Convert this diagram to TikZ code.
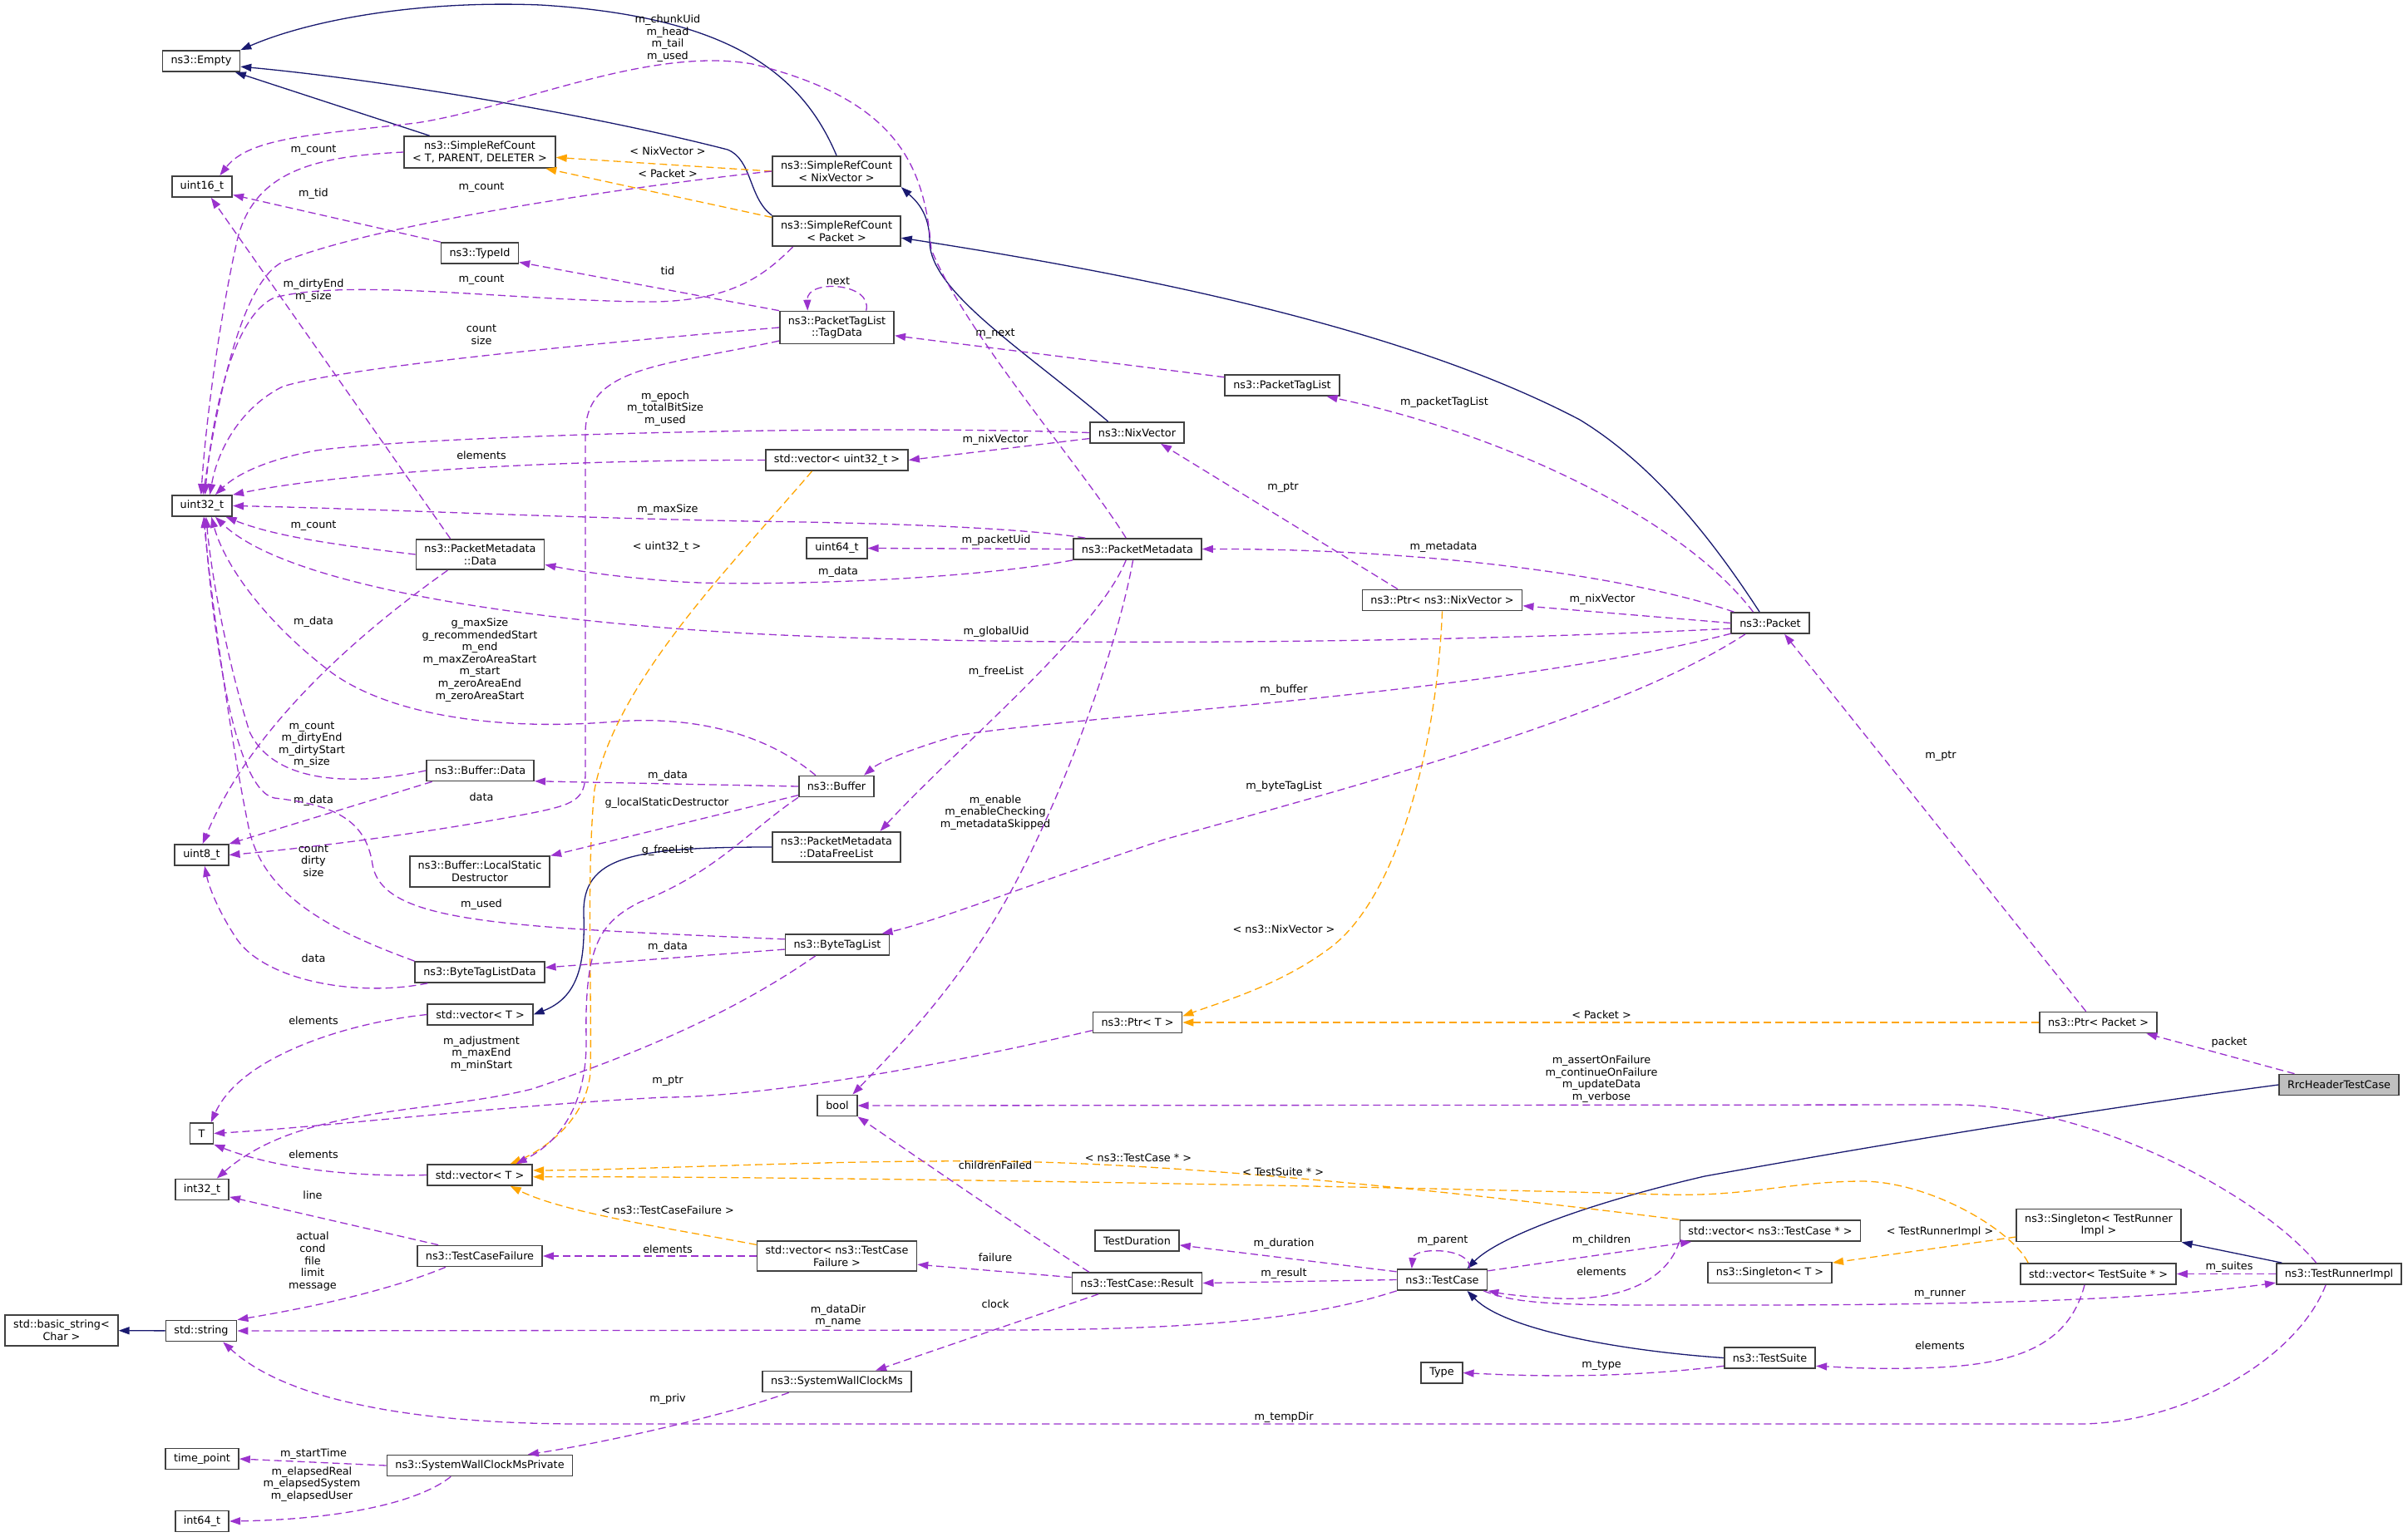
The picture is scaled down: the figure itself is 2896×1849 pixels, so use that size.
\documentclass[tikz,border=0pt]{standalone}
\usepackage{fontspec}
\setmainfont{DejaVu Sans}
\usetikzlibrary{arrows.meta}
\definecolor{mbrC}{HTML}{9A32CD}
\definecolor{tplC}{HTML}{FFA500}
\definecolor{inhC}{HTML}{191970}
\definecolor{rrcFill}{HTML}{BFBFBF}
\begin{document}
\begin{tikzpicture}[x=1pt,y=-1pt]
  \tikzstyle{every node}=[font=\fontsize{12.8}{14.6}\selectfont];
  \tikzstyle{cls}=[draw=black!75,line width=1.7pt,fill=white,inner xsep=10pt,inner ysep=6pt,minimum height=25pt,align=center];
  \tikzstyle{lbl}=[inner sep=1pt,align=center];
  \tikzstyle{mbr}=[draw=mbrC,line width=1.3pt,dash pattern=on 9pt off 5pt,-{Triangle[length=13pt,width=9pt]}];
  \tikzstyle{tpl}=[draw=tplC,line width=1.3pt,dash pattern=on 9pt off 5pt,-{Triangle[length=13pt,width=9pt]}];
  \tikzstyle{inh}=[draw=inhC,line width=1.3pt,-{Triangle[length=13pt,width=9pt]}];

  \fill[white] (0,0) rectangle (2896,1849);
  \useasboundingbox (0,0) rectangle (2896,1849);

  % classes
  \node[cls] (empty) at (242,73.5) {ns3::Empty};
  \node[cls] (u16) at (243,224.5) {uint16\_t};
  \node[cls] (srcT) at (577,183) {ns3::SimpleRefCount\\< T, PARENT, DELETER >};
  \node[cls] (srcNix) at (1006,206) {ns3::SimpleRefCount\\< NixVector >};
  \node[cls] (srcPkt) at (1006,278) {ns3::SimpleRefCount\\< Packet >};
  \node[cls] (typeId) at (577,304.5) {ns3::TypeId};
  \node[cls] (tagData) at (1006.5,394) {ns3::PacketTagList\\::TagData};
  \node[cls] (vecU32) at (1006.5,553.5) {std::vector< uint32\_t >};
  \node[cls] (u32) at (243,608.5) {uint32\_t};
  \node[cls] (ptl) at (1542,463.5) {ns3::PacketTagList};
  \node[cls] (nixVec) at (1367.5,520.5) {ns3::NixVector};
  \node[cls] (pmData) at (577.5,667) {ns3::PacketMetadata\\::Data};
  \node[cls] (u64) at (1006.5,659.5) {uint64\_t};
  \node[cls] (pm) at (1368,660.5) {ns3::PacketMetadata};
  \node[cls] (ptrNix) at (1734.5,722) {ns3::Ptr< ns3::NixVector >};
  \node[cls] (packet) at (2129,749.5) {ns3::Packet};
  \node[cls] (bufData) at (577.5,927) {ns3::Buffer::Data};
  \node[cls] (buffer) at (1006,946) {ns3::Buffer};
  \node[cls] (u8) at (242.5,1028.5) {uint8\_t};
  \node[cls] (lsd) at (577,1048.5) {ns3::Buffer::LocalStatic\\Destructor};
  \node[cls] (dfl) at (1006,1019) {ns3::PacketMetadata\\::DataFreeList};
  \node[cls] (btl) at (1007,1136.5) {ns3::ByteTagList};
  \node[cls] (btld) at (577,1169.5) {ns3::ByteTagListData};
  \node[cls] (vecTa) at (577.5,1220.5) {std::vector< T >};
  \node[cls] (boolT) at (1007,1330) {bool};
  \node[cls] (tpar) at (242.5,1363.5) {T};
  \node[cls] (vecTb) at (577,1413.5) {std::vector< T >};
  \node[cls] (i32) at (243,1431) {int32\_t};
  \node[cls] (tcf) at (577,1511) {ns3::TestCaseFailure};
  \node[cls] (vecTcf) at (1006.5,1511) {std::vector< ns3::TestCase\\Failure >};
  \node[cls] (basicStr) at (74,1600.5) {std::basic\_string<\\Char >};
  \node[cls] (str) at (242,1601) {std::string};
  \node[cls] (swcm) at (1006.5,1662) {ns3::SystemWallClockMs};
  \node[cls] (timePt) at (243,1755) {time\_point};
  \node[cls] (swcmp) at (577,1763) {ns3::SystemWallClockMsPrivate};
  \node[cls] (i64) at (243,1830) {int64\_t};
  \node[cls] (ptrT) at (1368,1230) {ns3::Ptr< T >};
  \node[cls] (ptrPkt) at (2523.5,1230) {ns3::Ptr< Packet >};
  \node[cls,fill=rrcFill] (rrc) at (2813,1305) {RrcHeaderTestCase};
  \node[cls] (testDur) at (1367.5,1492.5) {TestDuration};
  \node[cls] (tcResult) at (1367.5,1543.5) {ns3::TestCase::Result};
  \node[cls] (testCase) at (1734.5,1539.5) {ns3::TestCase};
  \node[cls] (vecTc) at (2129,1480.5) {std::vector< ns3::TestCase * >};
  \node[cls] (singTri) at (2524,1474) {ns3::Singleton< TestRunner\\Impl >};
  \node[cls] (singT) at (2128.5,1531) {ns3::Singleton< T >};
  \node[cls] (vecTs) at (2523.5,1532.5) {std::vector< TestSuite * >};
  \node[cls] (tri) at (2813,1532.5) {ns3::TestRunnerImpl};
  \node[cls] (testSuite) at (2128.5,1633.5) {ns3::TestSuite};
  \node[cls] (typeT) at (1734,1651.5) {Type};

  % inheritance
  \path[inh] (srcT) -- (empty);
  \path[inh] (srcNix.north) .. controls (965,90) and (880,20) .. (650,6) .. controls (500,0) and (370,25) .. (empty.north east);
  \path[inh] (srcPkt.north west) .. controls (900,238) and (905,192) .. (875,180) .. controls (700,135) and (450,95) .. (empty.-8);
  \path[inh] (nixVec.159) .. controls (1230,420) and (1118,350) .. (1118,290) .. controls (1118,255) and (1100,240) .. (srcNix.south east);
  \path[inh] (packet.134) .. controls (2060,650) and (1990,560) .. (1900,505) .. controls (1700,400) and (1400,335) .. (srcPkt.-6);
  \path[inh] (dfl.west) .. controls (760,1019) and (700,1030) .. (702,1100) .. controls (704,1160) and (695,1200) .. (vecTa.east);
  \path[inh] (str) -- (basicStr);
  \path[inh] (rrc.west) .. controls (2550,1330) and (2300,1370) .. (2050,1415) .. controls (1900,1450) and (1800,1490) .. (testCase.24);
  \path[inh] (testSuite.west) .. controls (1950,1625) and (1810,1600) .. (testCase.-24);
  \path[inh] (tri.169) -- (singTri.south east);

  % template instances
  \path[tpl] (srcNix.west) -- (srcT.-4) node[lbl] at (803,182) {< NixVector >};
  \path[tpl] (srcPkt.168) -- (srcT.-14) node[lbl] at (803,209) {< Packet >};
  \path[tpl] (vecU32.-156) .. controls (880,680) and (740,820) .. (715,950) .. controls (705,1050) and (712,1200) .. (710,1290) .. controls (705,1350) and (650,1385) .. (vecTb.20) node[lbl] at (802,658) {< uint32\_t >};
  \path[tpl] (ptrNix.south) .. controls (1728,900) and (1680,1080) .. (1600,1140) .. controls (1540,1185) and (1470,1205) .. (ptrT.8) node[lbl] at (1544,1118) {< ns3::NixVector >};
  \path[tpl] (ptrPkt) -- (ptrT) node[lbl] at (1926,1221) {< Packet >};
  \path[tpl] (vecTcf.172) .. controls (820,1480) and (680,1460) .. (vecTb.-20) node[lbl] at (803,1456) {< ns3::TestCaseFailure >};
  \path[tpl] (vecTc.north west) .. controls (1800,1440) and (1450,1400) .. (1200,1397) .. controls (1000,1395) and (750,1408) .. (vecTb.5) node[lbl] at (1369,1393) {< ns3::TestCase * >};
  \path[tpl] (vecTs.171) .. controls (2420,1480) and (2320,1420) .. (2236,1421) .. controls (2150,1422) and (2100,1440) .. (2000,1437) .. controls (1700,1428) and (1000,1415) .. (vecTb.-2) node[lbl] at (1543,1410) {< TestSuite * >};
  \path[tpl] (singTri.-172) -- (singT.9) node[lbl] at (2333,1482) {< TestRunnerImpl >};

  % members
  \path[mbr] (srcT.west) .. controls (380,188) and (305,205) .. (285,290) .. controls (265,380) and (248,500) .. (u32.95) node[lbl] at (377,181) {m\_count};
  \path[mbr] (srcNix.west) .. controls (750,225) and (450,270) .. (340,315) .. controls (290,340) and (262,480) .. (u32.85) node[lbl] at (579,226) {m\_count};
  \path[mbr] (srcPkt.-160) .. controls (920,330) and (880,365) .. (770,363) .. controls (600,360) and (420,335) .. (330,358) .. controls (280,380) and (255,500) .. (u32.75) node[lbl] at (579,337) {m\_count};
  \path[mbr] (typeId.north west) -- (u16.-15) node[lbl] at (377,233) {m\_tid};
  \path[mbr] (tagData.north west) -- (typeId.-13) node[lbl] at (803,326) {tid};
  \path[mbr] (tagData.30) .. controls (1050,340) and (970,335) .. (tagData.150) node[lbl] at (1008,338) {next};
  \path[mbr] (tagData.west) .. controls (750,410) and (420,440) .. (340,465) .. controls (290,490) and (262,540) .. (u32.55) node[lbl] at (579,402.5) {count\\size};
  \path[mbr] (tagData.-167) .. controls (800,440) and (705,440) .. (704,520) -- (704,930) .. controls (704,962) and (690,968) .. (640,978) .. controls (500,1005) and (350,1022) .. (u8.east) node[lbl] at (579,959) {data};
  \path[mbr] (ptl.172) -- (tagData.-8) node[lbl] at (1197,402) {m\_next};
  \path[mbr] (nixVec.west) .. controls (1000,510) and (500,525) .. (380,542) .. controls (310,555) and (280,575) .. (u32.40) node[lbl] at (800,491.5) {m\_epoch\\m\_totalBitSize\\m\_used};
  \path[mbr] (nixVec.-173) -- (vecU32.east) node[lbl] at (1197,529) {m\_nixVector};
  \path[mbr] (vecU32.west) .. controls (650,553) and (400,570) .. (u32.north east) node[lbl] at (579,548) {elements};
  \path[mbr] (pm.136) .. controls (1300,560) and (1160,400) .. (1120,300) .. controls (1112,200) and (1080,120) .. (905,77) .. controls (780,55) and (620,130) .. (500,148) .. controls (380,162) and (300,165) .. (u16.32) node[lbl] at (803,46) {m\_chunkUid\\m\_head\\m\_tail\\m\_used};
  \path[mbr] (pm.168) .. controls (1260,640) and (1150,630) .. (900,627) .. controls (650,622) and (450,612) .. (u32.east) node[lbl] at (803,613) {m\_maxSize};
  \path[mbr] (pm.west) -- (u64.east) node[lbl] at (1198,650) {m\_packetUid};
  \path[mbr] (pm.south west) .. controls (1150,700) and (900,705) .. (820,700) .. controls (750,695) and (700,688) .. (pmData.-9) node[lbl] at (1008,688) {m\_data};
  \path[mbr] (pmData.west) .. controls (400,655) and (330,645) .. (u32.-25) node[lbl] at (377,633) {m\_count};
  \path[mbr] (pmData.-154) .. controls (420,770) and (300,880) .. (u8.85) node[lbl] at (377,748) {m\_data};
  \path[mbr] (pmData.152) -- (u16.-51) node[lbl] at (377,349.5) {m\_dirtyEnd\\m\_size};
  \path[mbr] (pm.-136) .. controls (1320,760) and (1150,900) .. (dfl.20) node[lbl] at (1198,808) {m\_freeList};
  \path[mbr] (pm.-112) .. controls (1340,800) and (1260,1000) .. (1200,1100) .. controls (1140,1200) and (1070,1270) .. (boolT.36) node[lbl] at (1197,977.5) {m\_enable\\m\_enableChecking\\m\_metadataSkipped};
  \path[mbr] (ptrNix.166) -- (nixVec.-25) node[lbl] at (1543,587) {m\_ptr};
  \path[mbr] (packet.147) .. controls (2020,620) and (1800,520) .. (ptl.-14) node[lbl] at (1737,484) {m\_packetTagList};
  \path[mbr] (packet.163) .. controls (1950,690) and (1700,660) .. (pm.east) node[lbl] at (1736,658) {m\_metadata};
  \path[mbr] (packet.west) -- (ptrNix.-4) node[lbl] at (1927,721) {m\_nixVector};
  \path[mbr] (packet.-172) .. controls (1700,775) and (1200,778) .. (900,762) .. controls (600,745) and (340,700) .. (u32.-40) node[lbl] at (1198,760) {m\_globalUid};
  \path[mbr] (packet.-165) .. controls (1800,835) and (1300,860) .. (1150,885) .. controls (1100,900) and (1060,915) .. (buffer.22) node[lbl] at (1544,830) {m\_buffer};
  \path[mbr] (packet.-156) .. controls (1950,860) and (1650,940) .. (1400,1010) .. controls (1250,1060) and (1120,1110) .. (btl.14) node[lbl] at (1544,946) {m\_byteTagList};
  \path[mbr] (ptrPkt.138) -- (packet.-38) node[lbl] at (2334,910) {m\_ptr};
  \path[mbr] (rrc.166) -- (ptrPkt.-13) node[lbl] at (2681,1254) {packet};
  \path[mbr] (buffer.152) .. controls (930,890) and (850,860) .. (740,868) .. controls (600,880) and (470,860) .. (400,810) .. controls (320,750) and (270,680) .. (u32.-50) node[lbl] at (577,794) {g\_maxSize\\g\_recommendedStart\\m\_end\\m\_maxZeroAreaStart\\m\_start\\m\_zeroAreaEnd\\m\_zeroAreaStart};
  \path[mbr] (buffer.west) -- (bufData.-11) node[lbl] at (803,933) {m\_data};
  \path[mbr] (buffer.-167) -- (lsd.north east) node[lbl] at (802,966) {g\_localStaticDestructor};
  \path[mbr] (buffer.south west) .. controls (900,1000) and (860,1050) .. (770,1085) .. controls (720,1110) and (703,1140) .. (705,1250) .. controls (706,1320) and (680,1370) .. (vecTb.17) node[lbl] at (803,1023) {g\_freeList};
  \path[mbr] (bufData.west) .. controls (430,945) and (330,945) .. (300,880) .. controls (275,800) and (255,700) .. (u32.-70) node[lbl] at (375,896) {m\_count\\m\_dirtyEnd\\m\_dirtyStart\\m\_size};
  \path[mbr] (bufData.-167) -- (u8.north east) node[lbl] at (377,963) {m\_data};
  \path[mbr] (btl.174) .. controls (600,1115) and (460,1110) .. (448,1040) .. controls (440,985) and (400,968) .. (330,960) .. controls (280,950) and (255,750) .. (u32.-78) node[lbl] at (579,1088) {m\_used};
  \path[mbr] (btl.-175) -- (btld.4) node[lbl] at (803,1139) {m\_data};
  \path[mbr] (btl.-153) .. controls (880,1220) and (760,1270) .. (640,1310) .. controls (520,1340) and (360,1330) .. (i32.37) node[lbl] at (579,1267.5) {m\_adjustment\\m\_maxEnd\\m\_minStart};
  \path[mbr] (btld.north west) .. controls (400,1120) and (320,1080) .. (300,1000) .. controls (275,880) and (252,700) .. (u32.-82) node[lbl] at (377,1035.5) {count\\dirty\\size};
  \path[mbr] (btld.-168) .. controls (430,1200) and (320,1180) .. (285,1130) .. controls (265,1100) and (252,1070) .. (u8.-75) node[lbl] at (377,1153) {data};
  \path[mbr] (vecTa.west) .. controls (420,1230) and (290,1270) .. (tpar.50) node[lbl] at (377,1228) {elements};
  \path[mbr] (vecTb.west) .. controls (420,1416) and (330,1405) .. (tpar.south east) node[lbl] at (377,1389) {elements};
  \path[mbr] (ptrT.-170) .. controls (1100,1290) and (900,1320) .. (800,1320) .. controls (600,1330) and (400,1355) .. (tpar.east) node[lbl] at (803,1301) {m\_ptr};
  \path[mbr] (tcf.165) -- (i32.-15) node[lbl] at (376,1438) {line};
  \path[mbr] (tcf.-162) .. controls (450,1560) and (330,1580) .. (str.north east) node[lbl] at (376,1517.5) {actual\\cond\\file\\limit\\message};
  \path[mbr] (vecTcf.west) -- (tcf.east) node[lbl] at (803,1503) {elements};
  \path[mbr] (tcResult.175) -- (vecTcf.-6) node[lbl] at (1197,1513) {failure};
  \path[mbr] (tcResult.167) .. controls (1230,1480) and (1100,1390) .. (boolT.south east) node[lbl] at (1197,1402) {childrenFailed};
  \path[mbr] (tcResult.-164) -- (swcm.16) node[lbl] at (1197,1569) {clock};
  \path[mbr] (swcm.-167) .. controls (850,1710) and (700,1740) .. (swcmp.13) node[lbl] at (803,1683) {m\_priv};
  \path[mbr] (swcmp.west) -- (timePt.east) node[lbl] at (377,1749) {m\_startTime};
  \path[mbr] (swcmp.-159) .. controls (500,1810) and (400,1828) .. (i64.east) node[lbl] at (375,1785.5) {m\_elapsedReal\\m\_elapsedSystem\\m\_elapsedUser};
  \path[mbr] (testCase.170) -- (testDur.-6) node[lbl] at (1544,1496) {m\_duration};
  \path[mbr] (testCase.west) -- (tcResult.east) node[lbl] at (1544,1532) {m\_result};
  \path[mbr] (testCase.22) .. controls (1770,1500) and (1700,1500) .. (testCase.160) node[lbl] at (1735,1492) {m\_parent};
  \path[mbr] (testCase.11) -- (vecTc.-172) node[lbl] at (1926,1492) {m\_children};
  \path[mbr] (vecTc.south west) .. controls (2005,1540) and (1950,1565) .. (1874,1562) .. controls (1830,1560) and (1805,1556) .. (testCase.south east) node[lbl] at (1926,1530) {elements};
  \path[mbr] (testCase.south west) .. controls (1580,1585) and (1450,1600) .. (1200,1600) -- (str.east) node[lbl] at (1008,1583) {m\_dataDir\\m\_name};
  \path[mbr] (testCase.-15) .. controls (1830,1572) and (1900,1570) .. (2100,1570) .. controls (2400,1570) and (2600,1562) .. (tri.-172) node[lbl] at (2333,1557) {m\_runner};
  \path[mbr] (testSuite.-170) .. controls (1950,1658) and (1850,1656) .. (typeT.east) node[lbl] at (1926,1642) {m\_type};
  \path[mbr] (vecTs.-141) .. controls (2490,1610) and (2440,1640) .. (2330,1645) .. controls (2260,1648) and (2220,1645) .. (testSuite.-10) node[lbl] at (2333,1619) {elements};
  \path[mbr] (tri.west) -- (vecTs.east) node[lbl] at (2681,1524) {m\_suites};
  \path[mbr] (tri.154) .. controls (2720,1440) and (2520,1330) .. (2350,1329) -- (boolT.east) node[lbl] at (1926,1298) {m\_assertOnFailure\\m\_continueOnFailure\\m\_updateData\\m\_verbose};
  \path[mbr] (tri.-140) .. controls (2760,1640) and (2620,1713) .. (2500,1713) -- (700,1713) .. controls (520,1713) and (350,1690) .. (str.-27) node[lbl] at (1544,1705) {m\_tempDir};
\end{tikzpicture}
\end{document}
